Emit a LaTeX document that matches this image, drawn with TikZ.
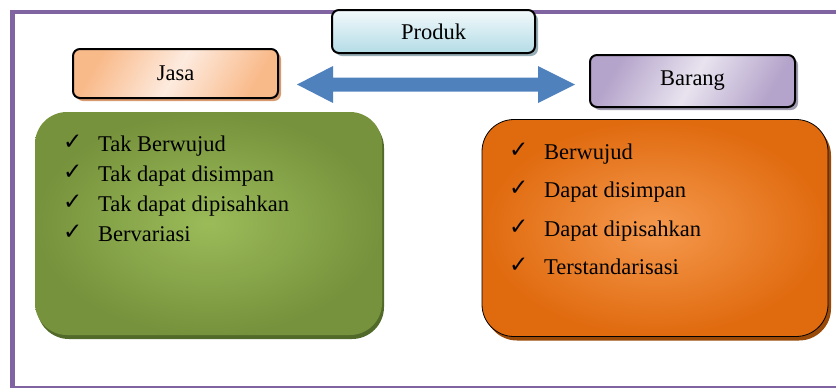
\documentclass[tikz,border=0pt]{standalone}
\usepackage{fontspec}
\setmainfont{Liberation Serif}
\newfontfamily\symfont{DejaVu Sans}
\usetikzlibrary{shadows,calc}
\definecolor{framec}{HTML}{8064A2}
\definecolor{arrowc}{HTML}{4F81BD}
\definecolor{jasaA}{HTML}{F9BA8A}
\definecolor{jasaB}{HTML}{FDEBDF}
\definecolor{jasaS}{HTML}{D99A70}
\definecolor{prodA}{HTML}{F2F9FB}
\definecolor{prodB}{HTML}{B4DCE6}
\definecolor{prodS}{HTML}{98AEB6}
\definecolor{barA}{HTML}{B4A3CA}
\definecolor{barB}{HTML}{E8E3EF}
\definecolor{barS}{HTML}{A29CB0}
\definecolor{grnIn}{HTML}{9BBB59}
\definecolor{grnOut}{HTML}{76923C}
\definecolor{grnS}{HTML}{526A29}
\definecolor{orgIn}{HTML}{F5994E}
\definecolor{orgOut}{HTML}{E06A0E}
\definecolor{orgS}{HTML}{9A4A08}
\begin{document}
\begin{tikzpicture}[x=1pt,y=-1pt,
  txt/.style={font=\fontsize{22.5}{26}\selectfont},
  smallbox/.style={draw=black, line width=2pt, rounded corners=7pt, inner sep=0pt, txt},
  bigbox/.style={rounded corners=32pt, inner sep=0pt},
  chk/.style={font=\symfont\fontsize{23}{26}\selectfont, anchor=base west, inner sep=0pt},
  item/.style={txt, anchor=base west, inner sep=0pt},
  framel/.style={draw=framec}
]
\useasboundingbox (0,0) rectangle (836,389);
% frame
\draw[framel, line width=4pt] (10,11.5) -- (836,11.5);
\draw[framel, line width=5pt] (12.5,9.5) -- (12.5,388);
\draw[framel, line width=2pt] (10,387) -- (836,387);

% big boxes
\node[bigbox, minimum width=347pt, minimum height=223pt,
  shading=radial, inner color=grnIn, outer color=grnOut,
  drop shadow={shadow xshift=2pt, shadow yshift=-4pt, fill=grnS, opacity=1}]
  (green) at (208.5,223.5) {};
\node[bigbox, draw=black, line width=0.8pt, minimum width=346pt, minimum height=217pt,
  shading=radial, inner color=orgIn, outer color=orgOut,
  drop shadow={shadow xshift=3pt, shadow yshift=-4pt, fill=orgS, opacity=1}]
  (orange) at (655,228) {};

% small boxes
\node[smallbox, minimum width=203pt, minimum height=43pt,
  top color=prodA, bottom color=prodB,
  drop shadow={shadow xshift=3pt, shadow yshift=-3pt, fill=prodS, opacity=1}]
  (produk) at (433.5,31.5) {Produk};
\node[smallbox, minimum width=205pt, minimum height=49pt,
  left color=jasaA, right color=jasaA, middle color=jasaB, shading angle=60,
  drop shadow={shadow xshift=3pt, shadow yshift=-3pt, fill=jasaS, opacity=1}]
  (jasa) at (175.5,73.5) {Jasa};
\node[smallbox, minimum width=205pt, minimum height=52pt,
  left color=barA, right color=barA, middle color=barB, shading angle=60,
  drop shadow={shadow xshift=3pt, shadow yshift=-3pt, fill=barS, opacity=1}]
  (barang) at (692.5,81) {Barang};

% double arrow
\coordinate (ac) at (436,84.5);
\fill[arrowc] ($(ac)+(-139,0)$) -- ($(ac)+(-103,-18.5)$) -- ($(ac)+(-103,-7)$)
  -- ($(ac)+(102,-7)$) -- ($(ac)+(102,-18.5)$) -- ($(ac)+(139,0)$)
  -- ($(ac)+(102,18.5)$) -- ($(ac)+(102,7)$) -- ($(ac)+(-103,7)$)
  -- ($(ac)+(-103,18.5)$) -- cycle;

% green list
\node[chk] (gc1) at (63,149) {✓};
\node[item] (gt1) at (98,151) {Tak Berwujud};
\node[chk] (gc2) at (63,179) {✓};
\node[item] (gt2) at (98,181) {Tak dapat disimpan};
\node[chk] (gc3) at (63,209) {✓};
\node[item] (gt3) at (98,211) {Tak dapat dipisahkan};
\node[chk] (gc4) at (63,239) {✓};
\node[item] (gt4) at (98,241) {Bervariasi};

% orange list
\node[chk] (oc1) at (509,157) {✓};
\node[item] (ot1) at (544,159) {Berwujud};
\node[chk] (oc2) at (509,195.5) {✓};
\node[item] (ot2) at (544,197.5) {Dapat disimpan};
\node[chk] (oc3) at (509,234) {✓};
\node[item] (ot3) at (544,236) {Dapat dipisahkan};
\node[chk] (oc4) at (509,272.5) {✓};
\node[item] (ot4) at (544,274.5) {Terstandarisasi};
\end{tikzpicture}
\end{document}
